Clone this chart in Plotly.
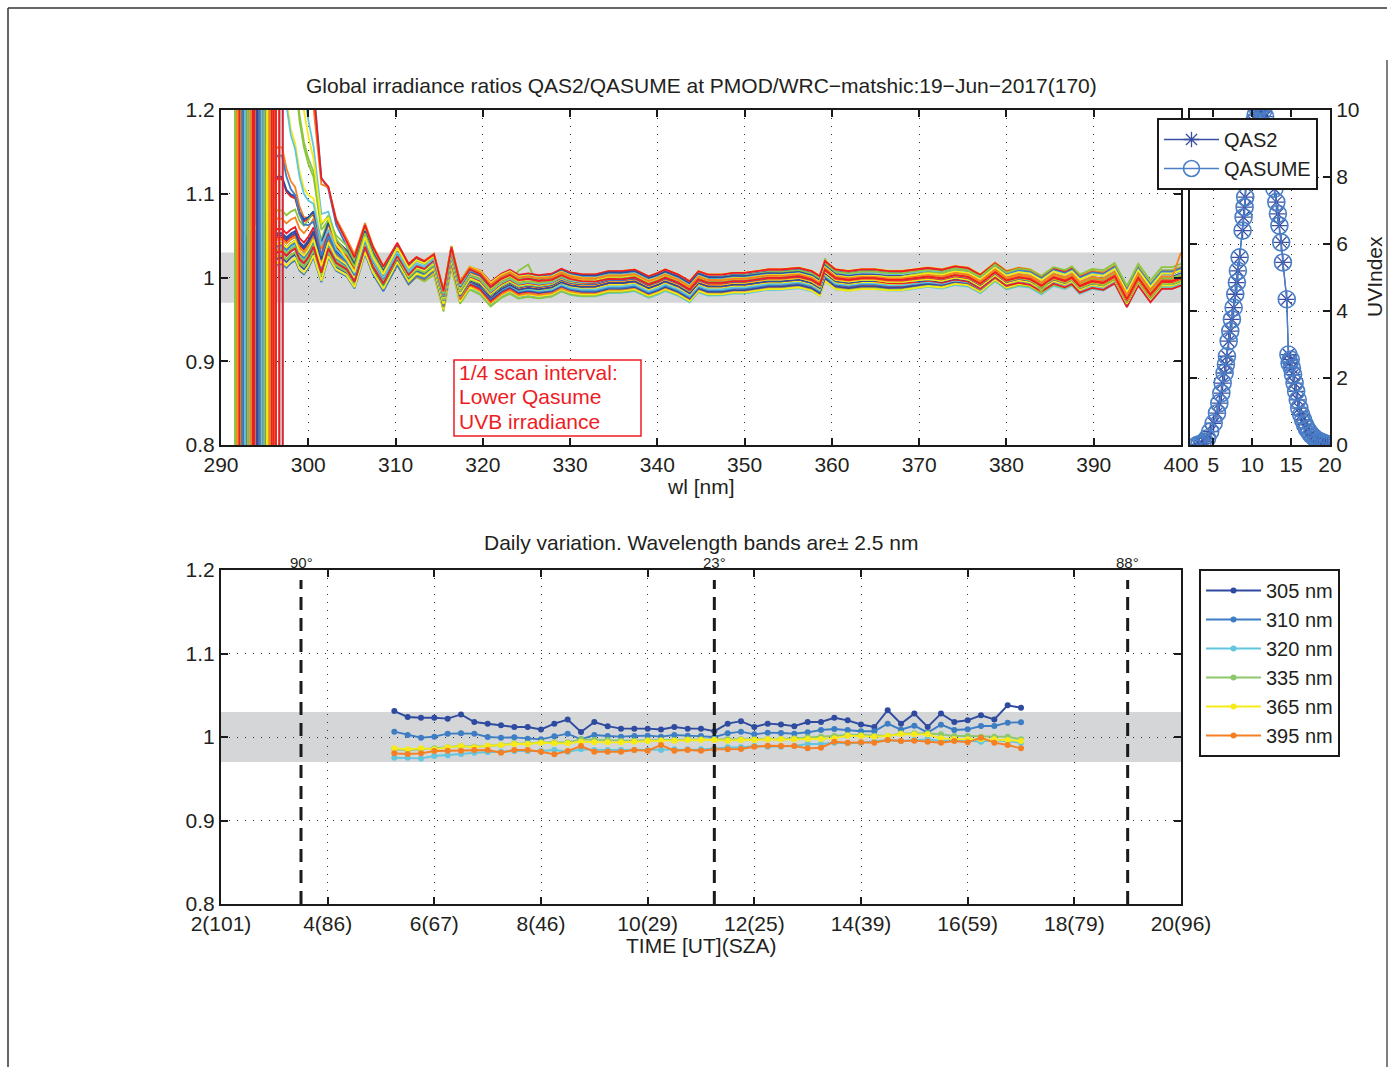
import numpy as np
import plotly.graph_objects as go

FONT = "Liberation Sans, Arial, Helvetica, sans-serif"
TXT = "#231F20"
W, H = 1391, 1067

# ---------------- Top panel: spectral ratio QAS2/QASUME ----------------
wl_nm = [293.0, 293.5, 294.0, 294.5, 295.0, 295.5, 296.0, 296.5, 297.0, 297.5,
         298.0, 298.5, 299.0, 299.5, 300.0, 300.6, 301.5, 302.3, 303.2, 304.4,
         305.3, 306.5, 307.4, 308.6, 310.2, 311.5, 312.4, 313.3, 314.4, 315.5,
         316.4, 317.4, 318.5, 319.7, 320.9, 322.1, 323.1, 324.1, 325.2, 326.4,
         327.9, 329.0, 330.0, 331.3, 332.9, 334.4, 335.9, 337.4, 339.0, 340.1,
         340.9, 342.4, 343.7, 344.7, 345.8, 347.4, 348.7, 350.0, 351.2, 352.7,
         354.2, 356.2, 357.7, 358.6, 359.2, 360.4, 361.9, 363.4, 364.9, 366.5,
         368.0, 369.9, 371.0, 372.6, 374.1, 375.6, 377.0, 378.7, 380.0, 381.4,
         382.7, 384.0, 385.4, 386.7, 387.5, 388.4, 389.8, 391.1, 392.4, 393.8,
         395.1, 396.5, 397.8, 399.0, 400.0]
ratio_mean = [1.065, 1.06, 1.06, 1.055, 1.05, 1.045, 1.04, 1.045, 1.045, 1.04,
              1.045, 1.048, 1.035, 1.03, 1.037, 1.049, 1.017, 1.045, 1.027, 1.018,
              1.002, 1.042, 1.017, 0.995, 1.025, 1.001, 1.010, 1.006, 1.015, 0.972,
              1.025, 0.983, 1.001, 0.996, 0.982, 0.992, 0.997, 0.991, 0.993, 0.991,
              0.993, 0.999, 0.995, 0.993, 0.993, 0.997, 0.997, 0.999, 0.991, 0.995,
              0.999, 0.993, 0.985, 0.997, 0.993, 0.993, 0.995, 0.995, 0.997, 0.999,
              0.999, 1.001, 0.997, 0.991, 1.009, 0.999, 0.997, 0.999, 0.999, 0.997,
              0.997, 0.999, 1.001, 0.999, 1.003, 1.001, 0.993, 1.007, 0.997, 1.001,
              0.999, 0.991, 1.001, 0.997, 1.001, 0.991, 0.997, 0.995, 1.003, 0.975,
              1.001, 0.981, 0.997, 0.997, 1.001]
# amplification of scan-to-scan spread toward short wavelengths
amp_wl = [293, 300, 305, 400]
amp_val = [2.8, 2.2, 1.3, 1.3]
# extra ratio rise of low-sun scans just above their cut-off
excess_wl = [297, 298, 299, 300, 301, 302, 303, 304]
excess_profile = [1.0, 0.6, 0.4, 0.25, 0.12, 0.05, 0.02, 0.0]
# wavelengths where noisy low-signal ratios flip (vertical lines)
spike_wl = [291.6, 291.83, 292.1, 292.48, 292.75, 293.06, 293.36, 293.63, 293.82,
            294.13, 294.39, 294.66, 294.97, 295.27, 295.54, 295.8, 296.04, 296.3,
            296.68, 297.07]
spike_window = 1.5
scan_cutoff = [297.2, 296.9, 296.6, 296.3, 296.0, 295.7, 295.4, 295.1, 294.8, 294.6,
               294.3, 294.1, 293.9, 293.7, 293.5, 293.3, 293.2, 293.0, 292.9, 292.8,
               292.7, 292.7, 292.6, 292.6, 292.6,
               292.6, 292.7, 292.7, 292.8, 292.9, 293.0, 293.2, 293.3, 293.5, 293.7,
               293.9, 294.1, 294.3, 294.6, 294.8, 295.1, 295.4, 295.7, 296.0, 296.3,
               296.6, 296.9, 297.2]
scan_excess = [0.9, 0.55, 0.35, 0.2, 0.1, 0.05] + [0.0] * 35 + [0.05, 0.1, 0.2, 0.35, 0.5, 0.65, 0.8]
bump_scan = [9, 16, 16, 23, 30, 13, 13, 46]
bump_wl = [310.2, 324.1, 325.2, 359.2, 384.0, 366.5, 368.0, 400.0]
bump_delta = [0.02, 0.02, 0.025, 0.012, -0.01, 0.008, 0.008, 0.025]
scan_palette = ["#2E4BA0", "#3C7DC4", "#62C6DF", "#8CC63F", "#F6EB16", "#F58220", "#EE1C25"]
note_lines = ["1/4 scan interval:", "Lower Qasume", "UVB irradiance"]

# ---------------- Right panel: UV index ----------------
uv_time = [2.9, 3.2, 3.55, 3.9, 4.2, 4.6, 5.04, 5.47, 5.77, 6.03,
           6.2, 6.45, 6.62, 6.75, 6.97, 7.18, 7.39, 7.61, 7.82, 8.03,
           8.16, 8.38, 8.76, 8.89, 9.02, 9.1, 9.23, 9.45, 9.7, 9.95,
           10.2, 10.45, 10.7, 10.95, 11.2, 11.4, 11.65, 11.9, 12.15, 12.4,
           12.6, 12.86, 13.1, 13.3, 13.5, 13.72, 13.95, 14.44, 14.65, 14.8,
           14.95, 15.1, 15.25, 15.45, 15.65, 15.85, 16.05, 16.3, 16.55, 16.8,
           17.05, 17.35, 17.6, 17.9, 18.2, 18.5, 18.8, 19.1, 19.4, 19.7]
uv_qasume = [0.0, 0.02, 0.05, 0.1, 0.2, 0.4, 0.65, 0.95, 1.25, 1.55,
             1.85, 2.15, 2.4, 2.65, 3.1, 3.4, 3.75, 4.1, 4.5, 4.85,
             5.2, 5.6, 6.4, 6.8, 7.1, 7.4, 7.9, 8.4, 8.9, 9.3,
             9.65, 9.85, 10.05, 10.15, 10.1, 9.97, 9.8, 9.5, 9.1, 8.5,
             7.95, 7.65, 7.25, 6.9, 6.55, 6.05, 5.45, 4.35, 2.7, 2.45,
             2.55, 2.3, 2.1, 1.85, 1.6, 1.35, 1.1, 0.9, 0.75, 0.6,
             0.48, 0.38, 0.3, 0.24, 0.18, 0.13, 0.1, 0.07, 0.04, 0.02]
uv_qas2 = [0.0, 0.02, 0.05, 0.1, 0.2, 0.4, 0.65, 0.95, 1.25, 1.55,
           1.85, 2.15, 2.4, 2.65, 3.1, 3.4, 3.75, 4.1, 4.5, 4.85,
           5.2, 5.6, 6.4, 6.8, 7.1, 7.4, 7.9, 8.4, 8.9, 9.3,
           9.65, 9.85, 10.05, 10.15, 10.1, 9.97, 9.8, 9.5, 9.1, 8.5,
           7.95, 7.65, 7.25, 6.9, 6.55, 6.05, 5.45, 4.35, 2.7, 2.45,
           2.55, 2.3, 2.1, 1.85, 1.6, 1.35, 1.1, 0.9, 0.75, 0.6,
           0.48, 0.38, 0.3, 0.24, 0.18, 0.13, 0.1, 0.07, 0.04, 0.02]

# ---------------- Bottom panel: daily variation ----------------
scan_time = [5.25, 5.5, 5.75, 6.0, 6.25, 6.5, 6.75, 7.0, 7.25, 7.5, 7.75, 8.0,
             8.25, 8.5, 8.75, 9.0, 9.25, 9.5, 9.75, 10.0, 10.25, 10.5, 10.75, 11.0,
             11.25, 11.5, 11.75, 12.0, 12.25, 12.5, 12.75, 13.0, 13.25, 13.5, 13.75, 14.0,
             14.25, 14.5, 14.75, 15.0, 15.25, 15.5, 15.75, 16.0, 16.25, 16.5, 16.75, 17.0]
v305 = [1.031, 1.024, 1.023, 1.023, 1.022, 1.027, 1.018, 1.016, 1.014, 1.012, 1.012, 1.009,
        1.016, 1.021, 1.006, 1.018, 1.013, 1.010, 1.010, 1.010, 1.009, 1.012, 1.010, 1.010,
        1.007, 1.016, 1.019, 1.012, 1.016, 1.015, 1.013, 1.018, 1.018, 1.023, 1.020, 1.015,
        1.012, 1.032, 1.016, 1.028, 1.012, 1.028, 1.018, 1.020, 1.026, 1.021, 1.038, 1.035]
v310 = [1.0064, 1.0024, 0.9992, 1.0004, 1.0040, 1.0044, 1.0040, 1.0000, 0.9992, 0.9996, 0.9980, 0.9972,
        1.0008, 1.0040, 0.9972, 1.0024, 1.0012, 1.0004, 1.0012, 1.0016, 1.0004, 1.0024, 1.0016, 1.0012,
        1.0000, 1.0044, 1.0064, 1.0032, 1.0052, 1.0048, 1.0040, 1.0056, 1.0084, 1.0096, 1.0084, 1.0068,
        1.0068, 1.0160, 1.0088, 1.0136, 1.0052, 1.0148, 1.0084, 1.0092, 1.0132, 1.0132, 1.0172, 1.0176]
v320 = [0.9752, 0.9752, 0.9744, 0.9772, 0.9780, 0.9796, 0.9812, 0.9820, 0.9824, 0.9832, 0.9832, 0.9832,
        0.9844, 0.9824, 0.9852, 0.9844, 0.9844, 0.9844, 0.9844, 0.9844, 0.9844, 0.9852, 0.9852, 0.9852,
        0.9864, 0.9876, 0.9876, 0.9892, 0.9884, 0.9884, 0.9892, 0.9916, 0.9916, 0.9932, 0.9924, 0.9932,
        0.9944, 0.9964, 0.9952, 0.9964, 0.9972, 0.9952, 0.9964, 0.9956, 0.9944, 0.9964, 0.9952, 0.9932]
v335 = [0.9852, 0.9844, 0.9852, 0.9864, 0.9876, 0.9892, 0.9884, 0.9892, 0.9904, 0.9924, 0.9924, 0.9936,
        0.9936, 0.9936, 0.9972, 0.9964, 0.9964, 0.9956, 0.9956, 0.9964, 0.9964, 0.9964, 0.9972, 0.9972,
        0.9972, 0.9972, 0.9972, 0.9972, 0.9976, 0.9976, 0.9984, 0.9996, 1.0004, 1.0012, 1.0024, 1.0024,
        1.0016, 1.0012, 1.0044, 1.0044, 1.0044, 1.0032, 1.0012, 1.0012, 1.0004, 1.0004, 1.0004, 0.9972]
v365 = [0.9864, 0.9852, 0.9864, 0.9852, 0.9876, 0.9892, 0.9876, 0.9896, 0.9904, 0.9916, 0.9916, 0.9932,
        0.9924, 0.9924, 0.9944, 0.9936, 0.9936, 0.9936, 0.9944, 0.9952, 0.9956, 0.9956, 0.9964, 0.9964,
        0.9964, 0.9956, 0.9964, 0.9964, 0.9972, 0.9972, 0.9972, 0.9976, 0.9976, 0.9984, 1.0016, 1.0012,
        1.0004, 1.0012, 1.0036, 1.0032, 1.0032, 0.9984, 0.9976, 0.9972, 0.9972, 0.9972, 0.9964, 0.9952]
v395 = [0.9804, 0.9796, 0.9804, 0.9832, 0.9836, 0.9836, 0.9844, 0.9844, 0.9812, 0.9844, 0.9844, 0.9824,
        0.9792, 0.9832, 0.9892, 0.9824, 0.9824, 0.9824, 0.9844, 0.9836, 0.9904, 0.9836, 0.9844, 0.9836,
        0.9852, 0.9852, 0.9856, 0.9884, 0.9896, 0.9892, 0.9892, 0.9864, 0.9872, 0.9944, 0.9932, 0.9936,
        0.9932, 0.9964, 0.9952, 0.9956, 0.9944, 0.9932, 0.9952, 0.9936, 0.9992, 0.9932, 0.9904, 0.9864]
band_nm = [305, 310, 320, 335, 365, 395]
band_names = ["305 nm", "310 nm", "320 nm", "335 nm", "365 nm", "395 nm"]
band_colors = ["#2E4BA0", "#3C7DC4", "#62C6DF", "#8CC76B", "#F6EB16", "#F57F22"]
time_ticks = [2, 4, 6, 8, 10, 12, 14, 16, 18, 20]
time_tick_text = ["2(101)", "4(86)", "6(67)", "8(46)", "10(29)", "12(25)", "14(39)",
                  "16(59)", "18(79)", "20(96)"]
sza_mark_time = [3.5, 11.25, 19.0]
sza_mark_text = ["90°", "23°", "88°"]

# ---------------- geometry (pixels -> paper) ----------------
def px(x):
    return x / W

def py(y):
    return (H - y) / H

fig = go.Figure()

# --- spectral ratio curves ---
bands = np.array([v305, v310, v320, v335, v365, v395])
dev = bands - bands.mean(axis=1, keepdims=True)
wl = np.array(wl_nm)
base = np.array(ratio_mean)
amp = np.interp(wl, amp_wl, amp_val)
exc = np.interp(wl, excess_wl, excess_profile)
n_scan = len(scan_time)
for i in range(n_scan):
    y = base + np.interp(wl, band_nm, dev[:, i]) * amp + scan_excess[i] * exc
    for s, bw, bd in zip(bump_scan, bump_wl, bump_delta):
        if s == i:
            y[int(np.argmin(np.abs(wl - bw)))] += bd
    valid = wl >= scan_cutoff[i]
    xs, ys = [], []
    sp = [s for s in spike_wl if scan_cutoff[i] - spike_window <= s < scan_cutoff[i]]
    for k, s in enumerate(sp):
        a, b = (-1.0, 3.0) if k % 2 == 0 else (3.0, -1.0)
        xs += [s, s]
        ys += [a, b]
    xs += list(wl[valid])
    ys += list(y[valid])
    fig.add_trace(go.Scatter(x=xs, y=ys, mode="lines", xaxis="x", yaxis="y",
                             line=dict(color=scan_palette[(i + 1) % 7], width=1.8),
                             showlegend=False, hoverinfo="skip"))

# --- UV index ---
fig.add_trace(go.Scatter(x=uv_time, y=uv_qas2, mode="lines+markers", name="QAS2",
                         xaxis="x2", yaxis="y2", legend="legend",
                         line=dict(color="#3A4FA3", width=1.3),
                         marker=dict(symbol="asterisk-open", size=13, color="#3A4FA3",
                                     line=dict(color="#3A4FA3", width=1.3))))
fig.add_trace(go.Scatter(x=uv_time, y=uv_qasume, mode="lines+markers", name="QASUME",
                         xaxis="x2", yaxis="y2", legend="legend",
                         line=dict(color="#4A7FC6", width=1.3),
                         marker=dict(symbol="circle-open", size=17, color="#4A7FC6",
                                     line=dict(color="#4A7FC6", width=1.6))))

# --- daily variation ---
for name, col, vals in zip(band_names, band_colors, [v305, v310, v320, v335, v365, v395]):
    fig.add_trace(go.Scatter(x=scan_time, y=vals, mode="lines+markers", name=name,
                             xaxis="x3", yaxis="y3", legend="legend2",
                             line=dict(color=col, width=1.9),
                             marker=dict(symbol="circle", size=6, color=col)))

shapes = []
# grey +-3% bands
shapes.append(dict(type="rect", xref="x", yref="y", x0=290, x1=400, y0=0.97, y1=1.03,
                   fillcolor="#D5D6D8", line=dict(width=0), layer="below"))
shapes.append(dict(type="rect", xref="x3", yref="y3", x0=2, x1=20, y0=0.97, y1=1.03,
                   fillcolor="#D5D6D8", line=dict(width=0), layer="below"))
# SZA marker lines
for t in sza_mark_time:
    shapes.append(dict(type="line", xref="x3", yref="y3 domain", x0=t, x1=t, y0=0, y1=0.97,
                       line=dict(color="#1A1A1A", width=3, dash="13px,8px"), layer="above"))
# note box
shapes.append(dict(type="rect", xref="paper", yref="paper", x0=px(454), x1=px(641),
                   y0=py(436), y1=py(360), line=dict(color="#EE1C25", width=1.5),
                   fillcolor="white", layer="above"))
# page frame
shapes.append(dict(type="line", xref="paper", yref="paper", x0=px(8), x1=px(8), y0=0, y1=py(8),
                   line=dict(color="#333", width=1.5)))
shapes.append(dict(type="line", xref="paper", yref="paper", x0=px(8), x1=px(1387), y0=py(8), y1=py(8),
                   line=dict(color="#333", width=1.5)))
shapes.append(dict(type="line", xref="paper", yref="paper", x0=px(1387), x1=px(1387), y0=0, y1=py(60),
                   line=dict(color="#555", width=1.5)))

annotations = []
annotations.append(dict(text="Global irradiance ratios QAS2/QASUME at PMOD/WRC\u2212matshic:19\u2212Jun\u22122017(170)",
                        x=px(701), y=py(86), xref="paper", yref="paper", showarrow=False,
                        xanchor="center", yanchor="middle", font=dict(size=21, color=TXT)))
annotations.append(dict(text="wl [nm]", x=px(701), y=py(486), xref="paper", yref="paper",
                        showarrow=False, xanchor="center", yanchor="middle", font=dict(size=21, color=TXT)))
annotations.append(dict(text="UVIndex", x=px(1375), y=py(277), xref="paper", yref="paper",
                        showarrow=False, textangle=-90, xanchor="center", yanchor="middle",
                        font=dict(size=21, color=TXT)))
for k, line in enumerate(note_lines):
    annotations.append(dict(text=line, x=px(457), y=py(372 + 24.5 * k), xref="paper", yref="paper",
                            showarrow=False, xanchor="left", yanchor="middle",
                            font=dict(size=21, color="#EE1C25")))
annotations.append(dict(text="Daily variation. Wavelength bands are\u00b1 2.5 nm", x=px(701), y=py(543),
                        xref="paper", yref="paper", showarrow=False, xanchor="center",
                        yanchor="middle", font=dict(size=21, color=TXT)))
annotations.append(dict(text="TIME [UT](SZA)", x=px(701), y=py(945), xref="paper", yref="paper",
                        showarrow=False, xanchor="center", yanchor="middle", font=dict(size=21, color=TXT)))
for t, lab in zip(sza_mark_time, sza_mark_text):
    annotations.append(dict(text=lab, x=t, y=1.0, xref="x3", yref="y3 domain", showarrow=False,
                            xanchor="center", yanchor="bottom", yshift=-3,
                            font=dict(size=15, color=TXT)))

ax_common = dict(showline=True, linewidth=2, linecolor="#1A1A1A", mirror="allticks",
                 ticks="inside", ticklen=7, tickwidth=1.5, tickcolor="#1A1A1A",
                 showgrid=True, gridcolor="#333333", griddash="1px,7px", gridwidth=1.3,
                 zeroline=False, automargin=False, tickfont=dict(size=21, color=TXT))

main_x = [px(221), px(1181)]
top_y = [py(445), py(110)]
bot_y = [py(904), py(570)]

fig.update_layout(
    width=W, height=H, margin=dict(l=0, r=0, t=0, b=0, autoexpand=False),
    paper_bgcolor="white", plot_bgcolor="white",
    font=dict(family=FONT, size=21, color=TXT),
    xaxis=dict(domain=main_x, range=[290, 400], tickvals=list(range(290, 401, 10)),
               anchor="y", **ax_common),
    yaxis=dict(domain=top_y, range=[0.8, 1.2], tickvals=[0.8, 0.9, 1.0, 1.1, 1.2],
               ticktext=["0.8", "0.9", "1", "1.1", "1.2"], anchor="x", **ax_common),
    xaxis2=dict(domain=[px(1190), px(1330)], range=[2, 20], tickvals=[5, 10, 15, 20],
                anchor="y2", **ax_common),
    yaxis2=dict(domain=top_y, range=[0, 10], tickvals=[0, 2, 4, 6, 8, 10], side="right",
                anchor="x2", **ax_common),
    xaxis3=dict(domain=main_x, range=[2, 20], tickvals=time_ticks, ticktext=time_tick_text,
                anchor="y3", **ax_common),
    yaxis3=dict(domain=bot_y, range=[0.8, 1.2], tickvals=[0.8, 0.9, 1.0, 1.1, 1.2],
                ticktext=["0.8", "0.9", "1", "1.1", "1.2"], anchor="x3", **ax_common),
    legend=dict(x=px(1157), y=py(118), xanchor="left", yanchor="top", bgcolor="white",
                bordercolor="#1A1A1A", borderwidth=2, font=dict(size=20, color=TXT),
                tracegroupgap=0, itemsizing="trace", itemwidth=55),
    legend2=dict(x=px(1199), y=py(569), xanchor="left", yanchor="top", bgcolor="white",
                 bordercolor="#1A1A1A", borderwidth=2, font=dict(size=20, color=TXT),
                 tracegroupgap=0, itemsizing="trace", itemwidth=55),
    shapes=shapes, annotations=annotations,
)

fig.write_html("out.html")
